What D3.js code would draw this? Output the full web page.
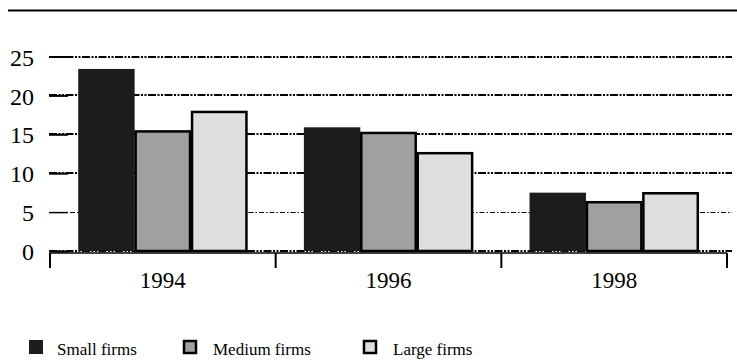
<!DOCTYPE html>
<html>
<head>
<meta charset="utf-8">
<script src="https://cdn.jsdelivr.net/npm/d3@7"></script>
<style>
  html, body { margin: 0; padding: 0; background: #fff; }
  svg { display: block; }
  svg text { font-family: "Liberation Serif", "DejaVu Serif", serif; fill: #000; }
</style>
</head>
<body>
<svg id="chart" width="737" height="361"></svg>
<script>
// Share of firms, by firm size and year
const years = ["1994", "1996", "1998"];
const seriesNames = ["Small firms", "Medium firms", "Large firms"];
const smallFirms = [23.4, 15.9, 7.5];
const mediumFirms = [15.5, 15.3, 6.4];
const largeFirms = [18.0, 12.7, 7.55];
const yTicks = [0, 5, 10, 15, 20, 25];

const seriesValues = [smallFirms, mediumFirms, largeFirms];
const fills = ["#1c1c1c", "#a0a0a0", "#dedede"];
const strokes = ["none", "#000", "#000"];
const serif = "Liberation Serif, DejaVu Serif, serif";

const svg = d3.select("#chart");

// rule across the top
svg.append("line")
  .attr("x1", 8).attr("x2", 737)
  .attr("y1", 10.5).attr("y2", 10.5)
  .attr("stroke", "#000").attr("stroke-width", 2);

const y = d3.scaleLinear().domain([0, 25]).range([251, 56.5]);
const x0 = d3.scaleBand().domain(years).range([50, 727]);
const x1 = d3.scaleBand().domain(seriesNames).range([0, x0.bandwidth()]).paddingOuter(0.5);

// gridlines
const grid = svg.append("g");
grid.selectAll("line").data(yTicks).join("line")
  .attr("x1", 49).attr("x2", 732)
  .attr("y1", d => Math.round(y(d)) + (d === 5 ? 0.5 : 0))
  .attr("y2", d => Math.round(y(d)) + (d === 5 ? 0.5 : 0))
  .attr("stroke", "#000")
  .attr("stroke-width", d => d === 5 ? 1 : 2)
  .attr("stroke-dasharray", d => d === 5 ? "5,2,1.5,2" : "8,1.5,2,1.5,2,1.5");

// y axis: short inward ticks plus labels
const yAxis = svg.append("g")
  .attr("transform", "translate(68,0)")
  .call(d3.axisLeft(y).tickValues(yTicks).tickSize(19).tickPadding(15).tickFormat(d3.format("d")))
  .attr("font-family", serif)
  .attr("font-size", 24);
yAxis.select(".domain").remove();
yAxis.selectAll(".tick line").attr("stroke", "#000").attr("stroke-width", d => d === 5 ? 1.5 : 2);
yAxis.selectAll(".tick text")
  .attr("fill", "#000")
  .attr("font-family", serif)
  .attr("font-size", 24)
  .attr("dy", "0.36em");

// bars
const groups = svg.append("g").selectAll("g").data(years).join("g")
  .attr("transform", d => `translate(${x0(d)},0)`);

groups.selectAll("rect")
  .data((yr, i) => seriesNames.map((s, j) => ({ s, j, v: seriesValues[j][i] })))
  .join("rect")
  .attr("x", d => x1(d.s) + (d.j === 0 ? 0 : 1))
  .attr("width", d => x1.bandwidth() - (d.j === 0 ? 0 : 2))
  .attr("y", d => y(d.v) + (d.j === 0 ? 0 : 1))
  .attr("height", d => y(0) - y(d.v) - (d.j === 0 ? 0 : 1))
  .attr("fill", d => fills[d.j])
  .attr("stroke", d => strokes[d.j])
  .attr("stroke-width", 2.5);

// x axis
const xAxis = svg.append("g")
  .attr("transform", "translate(0,253)");
xAxis.append("line")
  .attr("x1", 50).attr("x2", 727)
  .attr("stroke", "#000").attr("stroke-width", 1.5);
const tickPos = years.map(yr => x0(yr)).concat([x0.range()[1]]);
xAxis.selectAll("line.tk").data(tickPos).join("line")
  .attr("class", "tk")
  .attr("x1", d => d).attr("x2", d => d)
  .attr("y1", 0).attr("y2", 15)
  .attr("stroke", "#000").attr("stroke-width", 2);
xAxis.selectAll("text").data(years).join("text")
  .attr("x", d => x0(d) + x0.bandwidth() / 2)
  .attr("y", 35)
  .attr("text-anchor", "middle")
  .attr("font-family", serif)
  .attr("font-size", 23)
  .text(d => d);

// legend
const legendX = [29, 183, 363];
const legend = svg.append("g").selectAll("g").data(seriesNames).join("g")
  .attr("transform", (d, i) => `translate(${legendX[i]},340)`);
legend.append("rect")
  .attr("x", (d, i) => i === 0 ? 0 : 1)
  .attr("y", (d, i) => i === 0 ? 0 : 1)
  .attr("width", (d, i) => i === 0 ? 14 : 12)
  .attr("height", (d, i) => i === 0 ? 14 : 12)
  .attr("fill", (d, i) => fills[i])
  .attr("stroke", (d, i) => strokes[i])
  .attr("stroke-width", 2.5);
legend.append("text")
  .attr("x", (d, i) => i === 0 ? 28 : 30)
  .attr("y", 15)
  .attr("font-family", serif)
  .attr("font-size", 17)
  .text(d => d);
</script>
</body>
</html>
